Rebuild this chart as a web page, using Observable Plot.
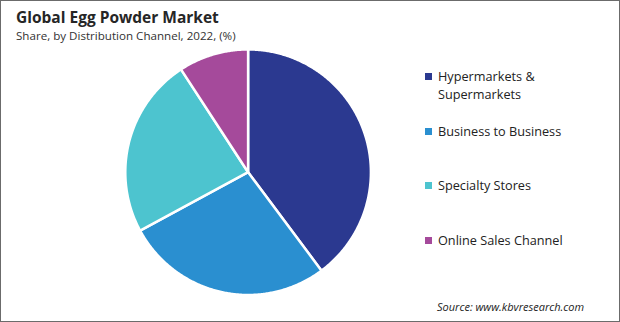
<!DOCTYPE html>
<html>
<head>
<meta charset="utf-8">
<script src="https://cdn.jsdelivr.net/npm/d3@7"></script>
<script src="https://cdn.jsdelivr.net/npm/@observablehq/plot@0.6"></script>
<style>
  html, body { margin: 0; padding: 0; background: #fff; }
  #wrap { position: relative; width: 620px; height: 322px; box-sizing: border-box; border: 1px solid #6b6b6b; overflow: hidden; font-family: "Open Sans", "Noto Sans", sans-serif; }
  #chart { position: absolute; left: -1px; top: -1px; }
  #title { position: absolute; left: 15px; top: 5px; font-size: 15.5px; font-weight: 700; color: #262626; }
  #subtitle { position: absolute; left: 15px; top: 27px; font-size: 11.6px; color: #333; }
  #source { position: absolute; left: 436px; top: 298px; font-size: 11px; font-style: italic; color: #222; }
  .leg { position: absolute; left: 424px; width: 160px; font-size: 12.7px; line-height: 18px; color: #222; }
  .leg .sw { position: absolute; left: 0; top: 6px; width: 7px; height: 7px; }
  .leg .lb { margin-left: 13px; }
</style>
</head>
<body>
<div id="wrap">
  <div id="chart"></div>
  <div id="title">Global Egg Powder Market</div>
  <div id="subtitle">Share, by Distribution Channel, 2022, (%)</div>
  <div id="legend"></div>
  <div id="source">Source: www.kbvresearch.com</div>
</div>
<script>
const categories = ["Hypermarkets & Supermarkets", "Business to Business", "Specialty Stores", "Online Sales Channel"];
const shares = [39.8, 27.3, 23.7, 9.2];
const colors = ["#2b3990", "#2a8fd0", "#4dc4cf", "#a54a9b"];

// Build slice polygons from the data (clockwise from 12 o'clock)
const pie = d3.pie().sort(null).value(d => d.value);
const arcs = pie(categories.map((c, i) => ({key: c, value: shares[i]})));
const pts = [];
for (const a of arcs) {
  const key = a.data.key;
  pts.push({key, x: 0, y: 0});
  const n = Math.max(2, Math.ceil((a.endAngle - a.startAngle) / (Math.PI / 360)));
  for (let k = 0; k <= n; k++) {
    const t = a.startAngle + (a.endAngle - a.startAngle) * k / n;
    pts.push({key, x: Math.sin(t), y: Math.cos(t)});
  }
}

const chart = Plot.plot({
  width: 620,
  height: 322,
  margin: 0,
  x: {domain: [-1, 1], range: [125, 371], axis: null},
  y: {domain: [-1, 1], range: [295, 49], axis: null},
  color: {domain: categories, range: colors},
  marks: [
    Plot.line(pts, {x: "x", y: "y", z: "key", fill: "key", stroke: "white", strokeWidth: 2.5, curve: "linear-closed", strokeLinejoin: "round"})
  ]
});
document.getElementById("chart").appendChild(chart);

// Legend
const legend = document.getElementById("legend");
const labels = [["Hypermarkets &", "Supermarkets"], ["Business to Business"], ["Specialty Stores"], ["Online Sales Channel"]];
categories.forEach((c, i) => {
  const div = document.createElement("div");
  div.className = "leg";
  div.style.top = (66 + i * 54.5) + "px";
  const sw = document.createElement("div");
  sw.className = "sw";
  sw.style.background = colors[i];
  const lb = document.createElement("div");
  lb.className = "lb";
  lb.innerHTML = labels[i].map(s => s.replace("&", "&amp;")).join("<br>");
  div.appendChild(sw);
  div.appendChild(lb);
  legend.appendChild(div);
});
</script>
</body>
</html>
